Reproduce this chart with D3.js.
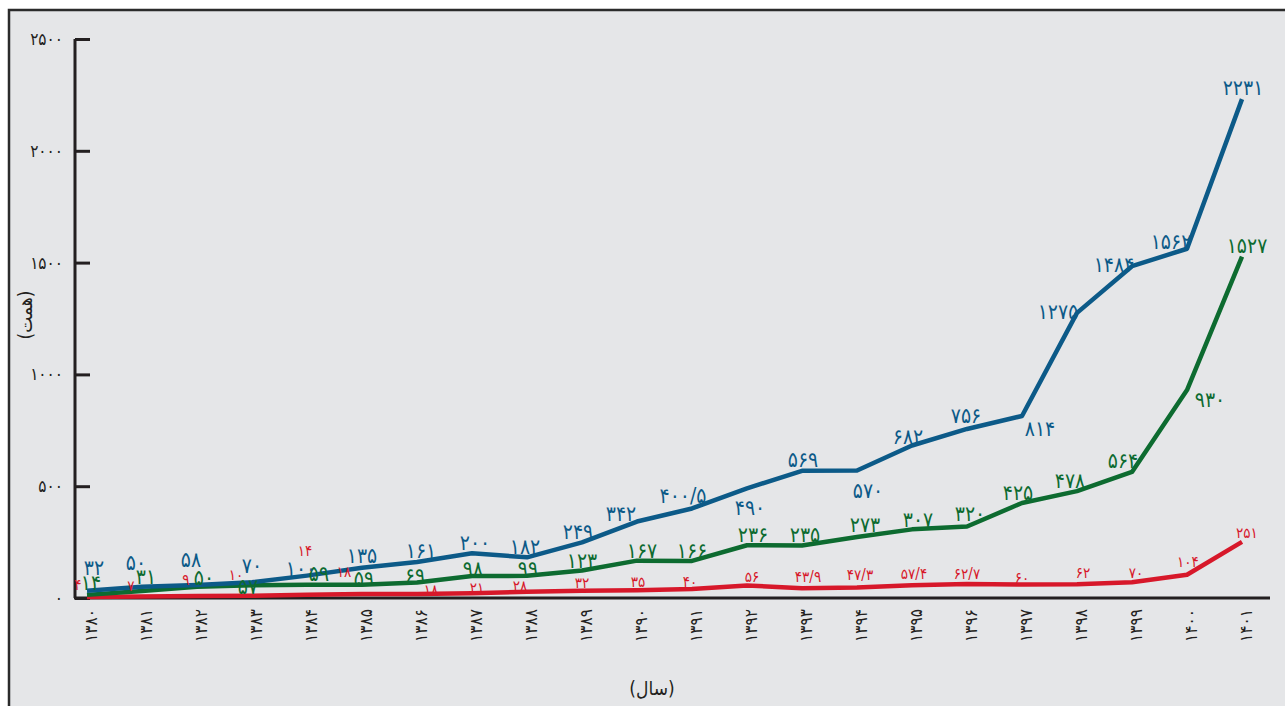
<!DOCTYPE html>
<html>
<head>
<meta charset="utf-8">
<script src="https://cdn.jsdelivr.net/npm/d3@7"></script>
<style>
  html, body { margin: 0; padding: 0; background: #ffffff; }
  svg { display: block; }
  text { font-family: "DejaVu Sans Condensed", "DejaVu Sans", sans-serif; }
</style>
</head>
<body>
<svg id="chart" width="1285" height="706"></svg>
<script>
// Years (Solar Hijri) on the horizontal axis
const years = [1380,1381,1382,1383,1384,1385,1386,1387,1388,1389,1390,1391,1392,1393,1394,1395,1396,1397,1398,1399,1400,1401];

// Series values (همت)
const blueValues  = [32,50,58,70,100,135,161,200,182,249,342,400.5,490,569,570,682,756,814,1275,1484,1562,2231];
const greenValues = [14,31,50,57,59,59,69,98,99,123,167,166,236,235,273,307,320,425,478,564,930,1527];
const redValues   = [4,7,9,10,14,18,18,21,28,32,35,40,56,43.9,47.3,57.4,62.7,60,62,70,104,251];

// Y-axis ticks
const yTicks = [0,500,1000,1500,2000,2500];

// Label nudges (dx, dy) relative to each point
const blueNudge = [[7,-23],[-6,-24],[-6,-25],[0,-17],[-6,-7],[0,-12],[4,-11],[3,-11],[-2,-11],[-4,-11],[-16,-8],[-9,-13],[3,19],[1,-11],[11,20],[-4,-9],[-1,-13],[18,13],[-19,-1],[-18,-2],[-16,-7],[1,-11]];
const greenNudge = [[4,-12],[4,-14],[7,-9],[-4,1],[12,-11],[2,-6],[-2,-7],[1,-7],[1,-7],[0,-10],[5,-10],[0,-10],[6,-11],[3,-11],[8,-12],[6,-10],[3,-13],[-4,-10],[-7,-10],[-9,-11],[23,10],[5,-11]];
const redNudge = [[-9,-12],[-11,-11],[-11,-16],[-16,-21],[-2,-44],[-18,-22],[14,-4],[5,-6],[-7,-6],[0,-8],[1,-8],[-2,-7],[5,-9],[6,-11],[3,-13],[2,-11],[0,-10],[0,-7],[6,-11],[4,-10],[1,-13],[5,-9]];

const faDigits = "۰۱۲۳۴۵۶۷۸۹";
const fa = v => String(v).replace(/[0-9]/g, d => faDigits[+d]).replace(".", "/");

const svg = d3.select("#chart");

// Panel background and frame
svg.append("rect").attr("x", 9).attr("y", 10).attr("width", 1290).attr("height", 710)
  .attr("fill", "#e5e6e8").attr("stroke", "#2b2b2b").attr("stroke-width", 2.5);

const x = d3.scalePoint().domain(years).range([87, 1242]);
const y = d3.scaleLinear().domain([0, 2500]).range([598, 39]);

// Y axis: vertical line with ticks pointing into the plot
const yAxis = d3.axisRight(y).tickValues(yTicks).tickSize(15).tickFormat("");
const yg = svg.append("g").attr("transform", "translate(75,0)").call(yAxis);
yg.select(".domain").attr("stroke", "#231f20").attr("stroke-width", 3).attr("d", `M0,${y(2500)}V${y(0)}`);
yg.selectAll(".tick line").attr("stroke", "#231f20").attr("stroke-width", 3);

svg.append("g").selectAll("text").data(yTicks).join("text")
  .attr("x", 63).attr("y", d => y(d)).attr("dy", "0.35em")
  .attr("text-anchor", "end").attr("font-size", 17).attr("fill", "#231f20")
  .text(d => fa(d));

// X axis baseline and rotated year labels
const xAxis = d3.axisBottom(x).tickSize(0).tickFormat(d => fa(d));
const xg = svg.append("g").attr("transform", `translate(0,${y(0)})`).call(xAxis);
xg.select(".domain").attr("stroke", "#231f20").attr("stroke-width", 3).attr("d", "M74,0H1270");
xg.selectAll(".tick text")
  .attr("font-size", 17).attr("fill", "#231f20")
  .attr("text-anchor", "end").attr("dx", 0).attr("dy", 0)
  .attr("transform", "translate(6,11) rotate(-90)");

// Axis titles
svg.append("text").attr("transform", "translate(32,315) rotate(-90)")
  .attr("text-anchor", "middle").attr("font-size", 19).attr("fill", "#231f20").text("(همت)");
svg.append("text").attr("x", 652).attr("y", 695)
  .attr("text-anchor", "middle").attr("font-size", 19).attr("fill", "#231f20").text("(سال)");

// Lines and value labels
const series = [
  { values: redValues, nudge: redNudge, color: "#d7182a", size: 15 },
  { values: greenValues, nudge: greenNudge, color: "#0d6b30", size: 21 },
  { values: blueValues, nudge: blueNudge, color: "#0c5a88", size: 21 }
];

const line = d3.line().x((d, i) => x(years[i])).y(d => y(d));

series.forEach(s => {
  svg.append("path").datum(s.values)
    .attr("d", line).attr("fill", "none")
    .attr("stroke", s.color).attr("stroke-width", 4.5)
    .attr("stroke-linejoin", "round");
});

series.forEach(s => {
  svg.append("g").selectAll("text").data(s.values).join("text")
    .attr("x", (d, i) => x(years[i]) + s.nudge[i][0])
    .attr("y", (d, i) => y(d) + s.nudge[i][1])
    .attr("dy", "0.35em").attr("text-anchor", "middle")
    .attr("font-size", s.size).attr("fill", s.color)
    .text(d => fa(d));
});
</script>
</body>
</html>
